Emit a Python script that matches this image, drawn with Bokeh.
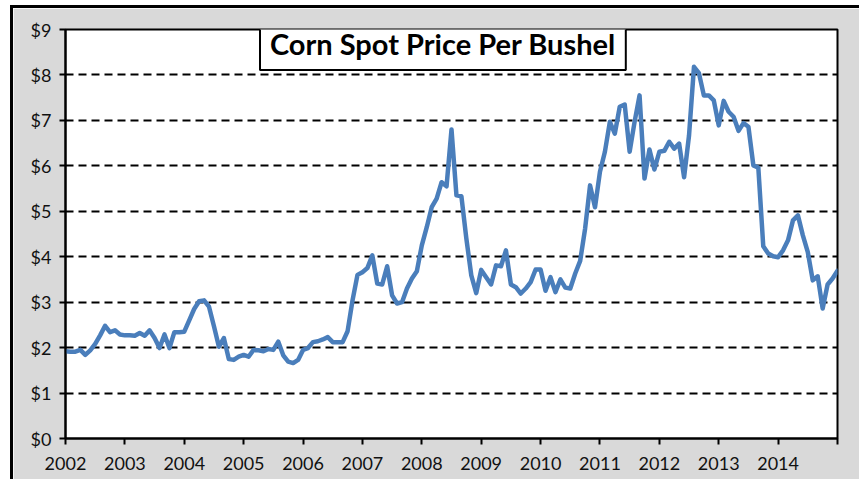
from bokeh.plotting import figure
from bokeh.models import FixedTicker, Label, Range1d
from bokeh.embed import file_html
from bokeh.resources import INLINE

# Monthly corn spot price ($ per bushel), January 2002 through January 2015
first_year = 2002
prices = [
    1.92, 1.91, 1.91, 1.95, 1.84, 1.94, 2.08, 2.27, 2.48, 2.34, 2.38, 2.29,   # 2002
    2.27, 2.27, 2.26, 2.32, 2.26, 2.38, 2.21, 1.99, 2.29, 1.99, 2.34, 2.34,   # 2003
    2.35, 2.60, 2.85, 3.02, 3.04, 2.90, 2.47, 2.02, 2.21, 1.75, 1.73, 1.80,   # 2004
    1.84, 1.80, 1.95, 1.94, 1.92, 1.97, 1.95, 2.13, 1.83, 1.69, 1.66, 1.73,   # 2005
    1.95, 1.99, 2.12, 2.14, 2.18, 2.23, 2.12, 2.12, 2.12, 2.36, 3.04, 3.60,   # 2006
    3.66, 3.75, 4.03, 3.41, 3.39, 3.79, 3.15, 2.97, 3.00, 3.30, 3.52, 3.68,   # 2007
    4.25, 4.65, 5.09, 5.28, 5.64, 5.55, 6.80, 5.35, 5.33, 4.40, 3.59, 3.20,   # 2008
    3.71, 3.55, 3.39, 3.81, 3.79, 4.14, 3.39, 3.33, 3.19, 3.30, 3.44, 3.72,   # 2009
    3.72, 3.25, 3.55, 3.22, 3.50, 3.32, 3.30, 3.63, 3.91, 4.62, 5.57, 5.09,   # 2010
    5.87, 6.31, 6.97, 6.71, 7.30, 7.35, 6.31, 6.97, 7.55, 5.72, 6.36, 5.92,   # 2011
    6.31, 6.33, 6.53, 6.38, 6.49, 5.75, 6.67, 8.18, 8.04, 7.55, 7.55, 7.44,   # 2012
    6.89, 7.43, 7.19, 7.08, 6.77, 6.94, 6.86, 6.01, 5.96, 4.23, 4.07, 4.01,   # 2013
    3.99, 4.14, 4.36, 4.80, 4.91, 4.47, 4.10, 3.48, 3.57, 2.86, 3.39, 3.52,   # 2014
    3.69,                                                                     # 2015
]
dates = [first_year + i / 12 for i in range(len(prices))]

year_ticks = list(range(2002, 2016))
year_labels = {2015: ""}
dollar_ticks = list(range(0, 10))
dollar_labels = {v: f"${v}" for v in dollar_ticks}

title_text = "Corn Spot Price Per Bushel"
FONT = "Lato"
TEXT_COLOR = "#111111"

p = figure(
    width=849, height=474,
    x_range=Range1d(2002, 2015), y_range=Range1d(0, 9),
    output_backend="svg", toolbar_location=None,
    min_border_left=52, min_border_top=21, min_border_right=25, min_border_bottom=44,
    border_fill_color="#d9d9d9", background_fill_color="white",
    outline_line_color="black", outline_line_width=2,
    margin=(5, 0, 0, 10),
    styles={"border-top": "3px solid black", "border-left": "3px solid black"},
)

p.line(dates, prices, line_color="#4A7EBB", line_width=4.5,
       line_join="round", line_cap="round")

# axes
p.xaxis.ticker = FixedTicker(ticks=year_ticks)
p.xaxis.major_label_overrides = year_labels
p.yaxis.ticker = FixedTicker(ticks=dollar_ticks)
p.yaxis.major_label_overrides = dollar_labels
for ax in (p.xaxis, p.yaxis):
    ax.axis_line_color = "black"
    ax.axis_line_width = 2
    ax.major_tick_line_color = "black"
    ax.major_tick_line_width = 2
    ax.major_tick_out = 6
    ax.major_tick_in = 0
    ax.minor_tick_line_color = None
    ax.major_label_text_font = FONT
    ax.major_label_text_font_size = "18px"
    ax.major_label_text_color = TEXT_COLOR
p.xaxis.major_label_standoff = 12
p.yaxis.major_label_standoff = 8

# grid
p.xgrid.grid_line_color = None
p.ygrid.grid_line_color = "black"
p.ygrid.grid_line_width = 2
p.ygrid.grid_line_dash = "8 5"

# boxed title inside the plot area
p.add_layout(Label(
    x=2008.355, y=8.69, text=title_text,
    text_align="center", text_baseline="middle",
    text_font=FONT, text_font_style="bold", text_font_size="29px",
    text_color="black",
    background_fill_color="white", border_line_color="black",
    border_line_width=2, padding=(10, 9),
))

open("out.html", "w").write(file_html(p, INLINE))
